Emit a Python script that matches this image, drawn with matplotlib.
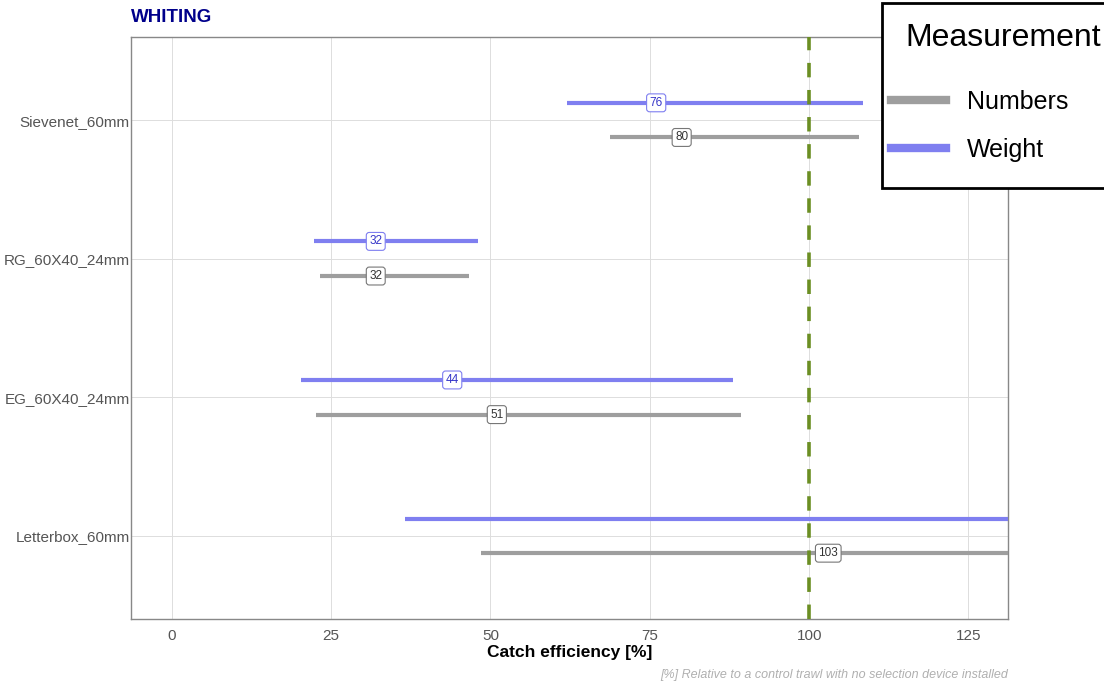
import numpy as np
import matplotlib.pyplot as plt
from matplotlib.patches import Rectangle

plt.rcParams['font.family'] = ['Liberation Sans', 'DejaVu Sans']

# Data
devices = ["Letterbox_60mm", "EG_60X40_24mm", "RG_60X40_24mm", "Sievenet_60mm"]
weight_est = [140, 44, 32, 76]
weight_lo = [36.6, 20.3, 22.3, 62.0]
weight_hi = [160, 88.1, 48.0, 108.5]
numbers_est = [103, 51, 32, 80]
numbers_lo = [48.5, 22.6, 23.2, 68.8]
numbers_hi = [150, 89.3, 46.6, 107.8]

col_w = "#7f7ff0"
col_n = "#9e9e9e"

fig = plt.figure(figsize=(11.04, 6.83), dpi=100)
ax = fig.add_axes([131/1104, 1-619/683, (1008-131)/1104, (619-37)/683])

y = np.arange(len(devices))
off = 0.125
ax.hlines(y + off, weight_lo, weight_hi, color=col_w, lw=3, zorder=3)
ax.hlines(y - off, numbers_lo, numbers_hi, color=col_n, lw=3, zorder=3)

for yi, v in zip(y, weight_est):
    ax.text(v, yi + off, f"{v}", ha="center", va="center", fontsize=8.5, color="#3535c8",
            bbox=dict(boxstyle="round,pad=0.25", fc="white", ec=col_w, lw=0.8), zorder=4, clip_on=True)
for yi, v in zip(y, numbers_est):
    ax.text(v, yi - off, f"{v}", ha="center", va="center", fontsize=8.5, color="#333333",
            bbox=dict(boxstyle="round,pad=0.25", fc="white", ec="#777777", lw=0.8), zorder=4, clip_on=True)

ax.axvline(100, color="#6b8e23", lw=2.6, ls=(0, (4, 3.5)), zorder=5)

ax.set_xlim(-6.4, 131.2)
ax.set_ylim(-0.6, 3.6)
ax.set_xticks([0, 25, 50, 75, 100, 125])
ax.set_yticks(y)
ax.set_yticklabels(devices)
ax.grid(True, color="#dddddd", lw=0.7, zorder=0)
ax.tick_params(colors="#555555", labelsize=11, length=0, pad=1)
ax.tick_params(axis="x", pad=7)
for s in ax.spines.values():
    s.set_color("#888888")
    s.set_linewidth(1)

ax.set_xlabel("Catch efficiency [%]", fontsize=12.5, fontweight="bold", labelpad=2)
fig.text(131/1104, 1-18/683, "WHITING", fontsize=13.5, fontweight="bold", color="#00008b",
         va="center", ha="left")
fig.text(1008/1104, 1-675/683, "[%] Relative to a control trawl with no selection device installed",
         fontsize=9, style="italic", color="#b0b0b0", ha="right", va="center")

# legend box drawn by hand so the title can sit indented like the reference
fig.patches.append(Rectangle((882/1104, 1-188/683), 0.3, 185/683, transform=fig.transFigure,
                             fc="white", ec="black", lw=2, zorder=10))
fig.text(905/1104, 1-38/683, "Measurement", fontsize=23, color="black", ha="left", va="center",
         zorder=11)
h1, = ax.plot([], [], color=col_n, lw=6)
h2, = ax.plot([], [], color=col_w, lw=6)
leg = fig.legend([h1, h2], ["Numbers", "Weight"], loc="center left",
                 bbox_to_anchor=(891/1104, 1-126/683), fontsize=18, frameon=False,
                 handlelength=2.2, handletextpad=0.85, labelspacing=0.95,
                 borderpad=0, borderaxespad=0)
leg.set_zorder(12)

fig.savefig("out.png", dpi=100)
